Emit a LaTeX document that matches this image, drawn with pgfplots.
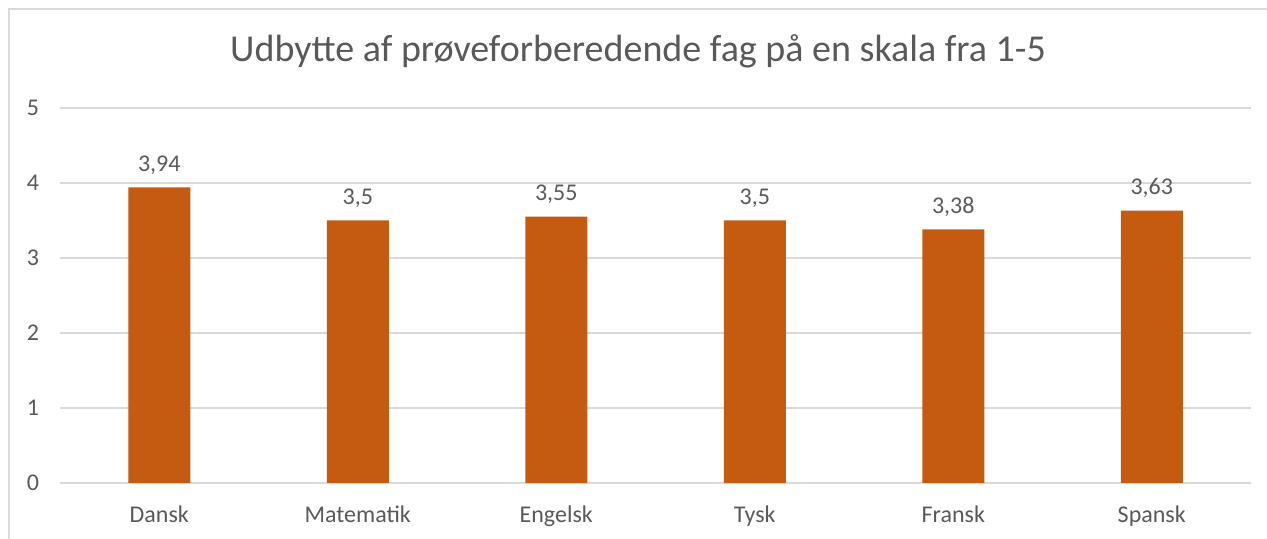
\documentclass[border=0pt]{standalone}
\usepackage{fontspec}
\setmainfont{Carlito}
\usepackage{pgfplots}
\pgfplotsset{compat=1.18}
\definecolor{barorange}{HTML}{C55A11}
\definecolor{txtgray}{HTML}{595959}
\definecolor{gridgray}{HTML}{D9D9D9}

\begin{document}
\begin{tikzpicture}
\useasboundingbox (0,0) rectangle (633.5pt,269.5pt);
\draw[gridgray, line width=0.6pt] (4.5pt,0) -- (4.5pt,265pt) -- (633.5pt,265pt);
\node[text=txtgray, font=\fontsize{19}{22}\selectfont] at (319pt,244pt) {Udbytte af prøveforberedende fag på en skala fra 1-5};
\begin{axis}[at={(30pt,28pt)}, anchor=south west, scale only axis,
  width=595.5pt, height=187.5pt,
  xmin=-0.5, xmax=5.5, ymin=0, ymax=5,
  ytick={0,1,2,3,4,5}, xtick=data,
  xticklabels={Dansk,Matematik,Engelsk,Tysk,Fransk,Spansk},
  axis line style={draw=none}, tick style={draw=none},
  ymajorgrids, grid style={gridgray, line width=0.6pt},
  ticklabel style={text=txtgray, font=\fontsize{12}{14}\selectfont},
  /pgf/number format/assume math mode=true,
  /pgf/number format/use comma,
  yticklabel style={xshift=-7pt},
  xticklabel style={yshift=-8pt},
  clip=false]
\addplot[ybar, bar width=31pt, fill=barorange, draw=none,
  nodes near coords, nodes near coords style={text=txtgray, font=\fontsize{12}{14}\selectfont, yshift=3pt},
  ] coordinates {(0,3.94) (1,3.5) (2,3.55) (3,3.5) (4,3.38) (5,3.63)};
\end{axis}
\end{tikzpicture}
\end{document}
